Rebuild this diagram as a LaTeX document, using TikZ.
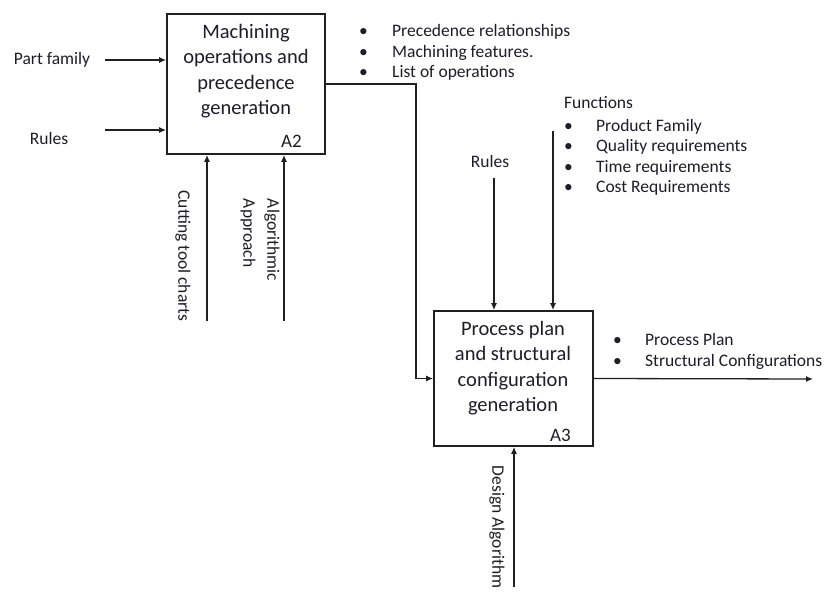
\documentclass[tikz,border=0pt]{standalone}
\usepackage{fontspec}
\setmainfont{Carlito}
\usetikzlibrary{arrows.meta}
\definecolor{ink}{HTML}{1E1E28}
\definecolor{wire}{HTML}{202020}
\begin{document}
\begin{tikzpicture}[x=1pt,y=-1pt,
  box/.style={draw=wire, line width=1.7pt, inner sep=0pt},
  boxtext/.style={font=\fontsize{20.5}{25.3}\selectfont, align=center, text=ink, inner sep=0pt},
  boxid/.style={font=\fontsize{19}{20}\selectfont, text=ink, inner sep=0pt, anchor=base east},
  lbl/.style={font=\fontsize{17.5}{20}\selectfont, text=ink, inner sep=0pt},
  blist/.style={font=\fontsize{17.5}{20.5}\selectfont, text=ink, inner sep=0pt, anchor=north west},
  flow/.style={draw=wire, line width=1.3pt, -{Latex[length=7pt,width=6pt]}}
]
\useasboundingbox[fill=white] (0,0) rectangle (825,604);

% activity boxes
\node[box, minimum width=158pt, minimum height=140pt] (a2) at (246,84) {};
\node[boxtext] (a2t) at (246,71) {Machining\\operations and\\precedence\\generation};
\node[boxid] (a2id) at (302,148) {A2};

\node[box, minimum width=159pt, minimum height=135pt] (a3) at (513.5,378.5) {};
\node[boxtext] (a3t) at (513,368) {Process plan\\and structural\\configuration\\generation};
\node[boxid] (a3id) at (571,441) {A3};

% inputs of A2
\node[lbl] (pf) at (52,60) {Part family};
\coordinate (pfs) at (105,60);
\draw[flow] (pfs) -- (pfs -| a2.west);

\node[lbl] (ru1) at (49,138) {Rules};
\coordinate (ru1s) at (105,130);
\draw[flow] (ru1s) -- (ru1s -| a2.west);

% mechanisms of A2
\coordinate (cts) at (207,321);
\draw[flow] (cts) -- (cts |- a2.south);
\node[lbl, rotate=-90] (ctl) at (183,256) {Cutting tool charts};

\coordinate (aas) at (284,321);
\draw[flow] (aas) -- (aas |- a2.south);
\node[lbl, rotate=-90, align=left, font=\fontsize{17.5}{24}\selectfont] (aal) at (260,240) {Algorithmic\\Approach};

% output of A2 feeding A3
\node[blist] (a2out) at (359,22) {\begin{tabular}{@{}p{33pt}@{}l@{}}
\textbullet & Precedence relationships\\
\textbullet & Machining features.\\
\textbullet & List of operations
\end{tabular}};
\coordinate (bend) at (416,84);
\draw[flow] (a2.east) -- (bend) |- (a3.west);

% controls of A3
\node[lbl] (ru2) at (490,161) {Rules};
\coordinate (ru2s) at (494,178);
\draw[flow] (ru2s) -- (ru2s |- a3.north);

\node[blist] (fn) at (564,94) {\begin{tabular}{@{}p{32pt}@{}l@{}}
\multicolumn{2}{@{}l@{}}{Functions}\\[2pt]
\textbullet & Product Family\\
\textbullet & Quality requirements\\
\textbullet & Time requirements\\
\textbullet & Cost Requirements
\end{tabular}};
\coordinate (fns) at (553,131);
\draw[flow] (fns) -- (fns |- a3.north);

% output of A3
\node[blist] (a3out) at (613,331) {\begin{tabular}{@{}p{32pt}@{}l@{}}
\textbullet & Process Plan\\
\textbullet & Structural Configurations
\end{tabular}};
\coordinate (outp) at (813,379);
\draw[flow] (a3.east) -- (outp);

% mechanism of A3
\coordinate (das) at (514,587);
\draw[flow] (das) -- (das |- a3.south);
\node[lbl, rotate=-90] (dal) at (497,527) {Design Algorithm};

\end{tikzpicture}
\end{document}
